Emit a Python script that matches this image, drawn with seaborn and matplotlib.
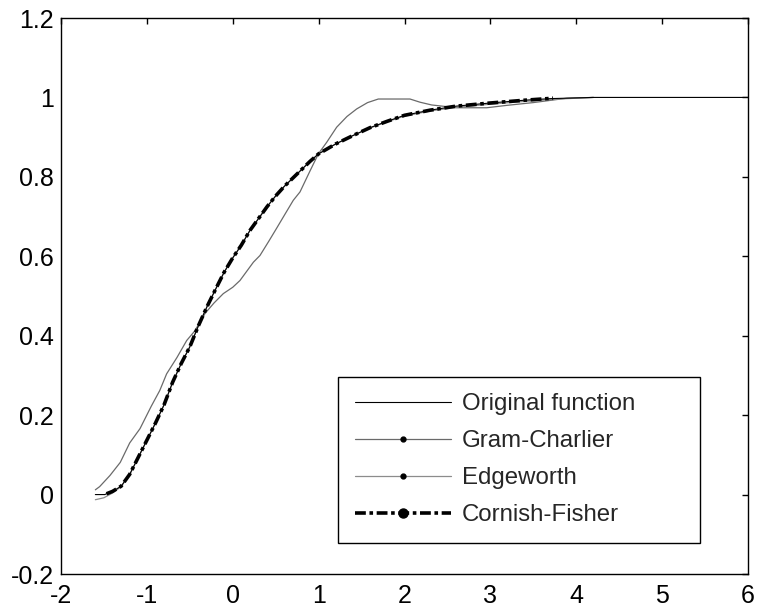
import numpy as np
import pandas as pd
import matplotlib
matplotlib.use("Agg")
import matplotlib.pyplot as plt
from matplotlib.lines import Line2D
from matplotlib.ticker import FuncFormatter
import seaborn as sns

# ---------------- data ----------------
orig_x = [-1.6, -1.49, -1.47, -1.4, -1.3, -1.2, -1.1, -1.0, -0.9, -0.8, -0.7, -0.6,
          -0.5, -0.4, -0.3, -0.2, -0.1, 0.0, 0.1, 0.2, 0.3, 0.4, 0.5, 0.6, 0.7,
          0.8, 0.9, 1.0, 1.2, 1.4, 1.6, 1.8, 2.0, 2.3, 2.6, 3.0, 3.4, 3.7, 4.2, 6.0]
orig_y = [0.0, 0.0, 0.002, 0.008, 0.021, 0.051, 0.094, 0.137, 0.18, 0.226, 0.283, 0.33,
          0.372, 0.425, 0.473, 0.517, 0.56, 0.596, 0.628, 0.665, 0.695, 0.725, 0.752, 0.776, 0.797,
          0.818, 0.839, 0.858, 0.883, 0.904, 0.924, 0.94, 0.955, 0.968, 0.978, 0.986, 0.993, 0.997, 1.0, 1.0]

gc_x = [-1.6, -1.55, -1.43, -1.31, -1.2, -1.08, -0.95, -0.85, -0.77, -0.65, -0.536,
        -0.45, -0.38, -0.323, -0.22, -0.11, 0.0, 0.084, 0.24, 0.317, 0.42, 0.512, 0.6,
        0.705, 0.783, 0.9, 0.997, 1.094, 1.21, 1.33, 1.443, 1.57, 1.695, 2.064, 2.18,
        2.317, 2.608, 2.957, 3.19, 3.5, 3.89, 4.2]
gc_y = [0.012, 0.02, 0.048, 0.081, 0.13, 0.166, 0.222, 0.262, 0.304, 0.345, 0.388,
        0.41, 0.434, 0.456, 0.482, 0.506, 0.522, 0.539, 0.585, 0.602, 0.638, 0.671, 0.703,
        0.741, 0.762, 0.815, 0.858, 0.887, 0.925, 0.952, 0.971, 0.987, 0.996, 0.996, 0.988,
        0.981, 0.974, 0.974, 0.98, 0.987, 0.998, 1.0]

ew_x = [-1.6, -1.5, -1.4, -1.3, -1.2, -1.1, -1.0, -0.9, -0.8, -0.7, -0.6,
        -0.5, -0.4, -0.3, -0.2, -0.1, 0.0, 0.1, 0.2, 0.3, 0.4, 0.5, 0.6, 0.7,
        0.8, 0.9, 1.0, 1.2, 1.4, 1.6, 1.8, 2.0, 2.3, 2.6, 3.0, 3.4, 3.8, 4.2]
ew_y = [-0.013, -0.008, 0.004, 0.02, 0.05, 0.093, 0.136, 0.18, 0.226, 0.282, 0.33,
        0.372, 0.425, 0.473, 0.517, 0.56, 0.596, 0.628, 0.665, 0.695, 0.725, 0.752, 0.776, 0.797,
        0.818, 0.839, 0.858, 0.883, 0.904, 0.923, 0.939, 0.953, 0.966, 0.975, 0.983, 0.99, 0.996, 1.0]

cf_x = [-1.47, -1.4, -1.3, -1.2, -1.1, -1.0, -0.9, -0.8, -0.7, -0.6,
        -0.5, -0.4, -0.3, -0.2, -0.1, 0.0, 0.1, 0.2, 0.3, 0.4, 0.5, 0.6, 0.7,
        0.8, 0.9, 1.0, 1.2, 1.4, 1.6, 1.8, 2.0, 2.3, 2.6, 3.0, 3.4, 3.73]
cf_y = [0.002, 0.008, 0.021, 0.051, 0.094, 0.137, 0.18, 0.226, 0.283, 0.33,
        0.372, 0.425, 0.473, 0.517, 0.56, 0.596, 0.628, 0.665, 0.695, 0.725, 0.752, 0.776, 0.797,
        0.818, 0.839, 0.858, 0.883, 0.904, 0.924, 0.94, 0.955, 0.968, 0.978, 0.986, 0.993, 0.998]

series_labels = ["Original function", "Gram-Charlier", "Edgeworth", "Cornish-Fisher"]
x_ticks = [-2, -1, 0, 1, 2, 3, 4, 5, 6]
y_ticks = [-0.2, 0, 0.2, 0.4, 0.6, 0.8, 1.0, 1.2]

# ---------------- style ----------------
sns.set_style("white")
plt.rcParams["font.family"] = ["Liberation Sans", "DejaVu Sans"]
plt.rcParams["axes.unicode_minus"] = False

fig = plt.figure(figsize=(7.59, 6.11), dpi=100)
ax = fig.add_axes([61 / 759, 1 - 574 / 611, (748 - 61) / 759, (574 - 18) / 611])

gc_col = "#6a6a6a"
ew_col = "#8c8c8c"
cf_dash = (0, (3, 1, 1, 1))

sns.lineplot(x=gc_x, y=gc_y, ax=ax, color=gc_col, linewidth=0.9,
             estimator=None, sort=False)
sns.lineplot(x=ew_x, y=ew_y, ax=ax, color=ew_col, linewidth=0.9,
             estimator=None, sort=False)
sns.lineplot(x=orig_x, y=orig_y, ax=ax, color="black", linewidth=0.8,
             estimator=None, sort=False)
sns.lineplot(x=cf_x, y=cf_y, ax=ax, color="black", linewidth=2.6,
             linestyle=cf_dash, estimator=None, sort=False)

ax.set_xlim(-2, 6)
ax.set_ylim(-0.2, 1.2)
ax.set_xticks(x_ticks)
ax.set_yticks(y_ticks)
fmt = FuncFormatter(lambda v, p: f"{v:g}")
ax.xaxis.set_major_formatter(fmt)
ax.yaxis.set_major_formatter(fmt)
ax.tick_params(axis="both", which="major", direction="in", length=4, width=1,
               colors="black", labelsize=18, top=True, right=True)
ax.tick_params(axis="x", pad=7.5)
ax.tick_params(axis="y", pad=5)
ax.set_xlabel("")
ax.set_ylabel("")
for s in ax.spines.values():
    s.set_visible(True)
    s.set_color("black")
    s.set_linewidth(1.0)

handles = [
    Line2D([], [], color="black", linewidth=0.8),
    Line2D([], [], color=gc_col, linewidth=0.9, marker="o", markersize=3.5,
           markerfacecolor="black", markeredgecolor="black"),
    Line2D([], [], color=ew_col, linewidth=0.9, marker="o", markersize=3.5,
           markerfacecolor="black", markeredgecolor="black"),
    Line2D([], [], color="black", linewidth=2.6, linestyle=cf_dash, marker="o",
           markersize=6.5, markerfacecolor="black", markeredgecolor="black"),
]
x0 = (338 - 61) / 687
x1 = (700 - 61) / 687
y0 = (574 - 543) / 556
y1 = (574 - 376) / 556
leg = ax.legend(handles, series_labels, loc="lower left",
                bbox_to_anchor=(x0, y0, x1 - x0, y1 - y0), mode="expand",
                fontsize=17.3, handlelength=4.0, handletextpad=0.47,
                labelspacing=0.62, borderpad=0.7, borderaxespad=0,
                frameon=True, fancybox=False, shadow=False, framealpha=1,
                edgecolor="black", numpoints=1)
leg.get_frame().set_linewidth(1.0)

fig.savefig("out.png", dpi=100)
